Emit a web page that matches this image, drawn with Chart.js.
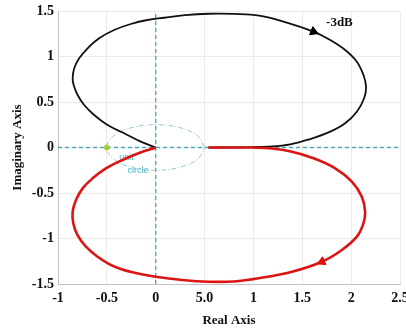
<!DOCTYPE html>
<html>
<head>
<meta charset="utf-8">
<script src="https://cdn.jsdelivr.net/npm/chart.js@4"></script>
<style>
  html, body { margin: 0; padding: 0; background: #fff; }
  #wrap { width: 406px; height: 329px; }
</style>
</head>
<body>
<div id="wrap"><canvas id="nyquistChart" width="406" height="329"></canvas></div>
<script>
// Nyquist curve, upper half (positive frequencies), from the origin round to the real axis
const upperRe = [0, -0.153, -0.323, -0.493, -0.630, -0.732, -0.799, -0.840, -0.850, -0.834, -0.783, -0.697, -0.579, -0.426, -0.255, -0.085, 0.085, 0.30, 0.544,
                 0.80, 1.06, 1.35, 1.615, 1.786, 1.939, 2.058, 2.126, 2.153, 2.133, 2.058, 1.939, 1.786, 1.582, 1.378, 1.15, 0.92, 0.75, 0.54];
const upperIm = [0, 0.064, 0.156, 0.247, 0.357, 0.467, 0.577, 0.687, 0.760, 0.870, 0.980, 1.090, 1.200, 1.291, 1.357, 1.401, 1.426, 1.455, 1.470,
                 1.468, 1.448, 1.37, 1.273, 1.181, 1.071, 0.943, 0.797, 0.668, 0.541, 0.393, 0.266, 0.174, 0.093, 0.035, 0.01, 0.002, 0, 0];

// lower half (negative frequencies)
const lowerRe = [0, -0.17, -0.34, -0.51, -0.646, -0.748, -0.816, -0.85, -0.844, -0.8, -0.714, -0.595, -0.442, -0.238, 0, 0.272, 0.544,
                 0.80, 1.054, 1.395, 1.701, 1.905, 2.058, 2.126, 2.143, 2.109, 2.007, 1.837, 1.599, 1.36, 1.122, 0.85, 0.54];
const lowerIm = [0, -0.06, -0.137, -0.229, -0.339, -0.449, -0.577, -0.705, -0.833, -0.962, -1.09, -1.2, -1.299, -1.372, -1.42, -1.456, -1.475,
                 -1.472, -1.437, -1.365, -1.255, -1.126, -0.98, -0.833, -0.705, -0.54, -0.376, -0.229, -0.112, -0.038, -0.005, 0, 0];

// unit circle guide (drawn squashed, as on the original axes)
const circleRe = [0.5, 0.433, 0.25, 0, -0.25, -0.433, -0.5, -0.433, -0.25, 0, 0.25, 0.433, 0.5];
const circleIm = [0, 0.125, 0.217, 0.25, 0.217, 0.125, 0, -0.125, -0.217, -0.25, -0.217, -0.125, 0];

// direction arrows: position and rotation (deg)
const arrowUpper = { x: 1.615, y: 1.273, rot: 112 };
const arrowLower = { x: 1.701, y: -1.255, rot: 246 };

// critical point
const critPoint = { x: -0.5, y: 0 };

const xTickLabels = ['-1', '-0.5', '0', '5.0', '1', '1.5', '2', '2.5'];
const yTickLabels = ['-1.5', '-1', '-0.5', '0', '0.5', '1', '1.5'];

const toPts = (re, im) => re.map((v, i) => ({ x: v, y: im[i] }));

const teal = '#4fa6b6';

// text labels placed in data coordinates
const labelsPlugin = {
    id: 'plotLabels',
    beforeDatasetsDraw(chart) {
        const { ctx, scales: { x, y } } = chart;
        ctx.save();
        ctx.fillStyle = '#45b3c3';
        ctx.font = '9px "Liberation Sans", Arial, sans-serif';
        ctx.textAlign = 'center';
        ctx.textBaseline = 'middle';
        ctx.fillText('unit', x.getPixelForValue(-0.30), y.getPixelForValue(-0.11));
        ctx.fillText('circle', x.getPixelForValue(-0.18), y.getPixelForValue(-0.25));
        ctx.restore();
    },
    afterDatasetsDraw(chart) {
        const { ctx, scales: { x, y } } = chart;
        ctx.save();
        ctx.fillStyle = '#111';
        ctx.font = 'bold 13px "Liberation Serif", "Times New Roman", serif';
        ctx.textAlign = 'center';
        ctx.textBaseline = 'middle';
        ctx.fillText('-3dB', x.getPixelForValue(1.88), y.getPixelForValue(1.37));
        ctx.restore();
    }
};

const tickFont = { family: '"Liberation Serif", "Times New Roman", serif', size: 14, weight: 'bold' };
const titleFont = { family: '"Liberation Serif", "Times New Roman", serif', size: 13, weight: 'bold' };

new Chart(document.getElementById('nyquistChart'), {
    type: 'scatter',
    data: {
        datasets: [
            {   // arrow on the lower branch
                data: [{ x: arrowLower.x, y: arrowLower.y }],
                pointStyle: 'triangle', rotation: arrowLower.rot,
                pointRadius: 5, backgroundColor: '#e01010', borderColor: '#e01010', borderWidth: 1
            },
            {   // arrow on the upper branch
                data: [{ x: arrowUpper.x, y: arrowUpper.y }],
                pointStyle: 'triangle', rotation: arrowUpper.rot,
                pointRadius: 5, backgroundColor: '#000', borderColor: '#000', borderWidth: 1
            },
            {   // lower branch
                data: toPts(lowerRe, lowerIm),
                showLine: true, borderColor: '#dc1414', borderWidth: 2.6,
                pointRadius: 0, tension: 0.4
            },
            {   // upper branch
                data: toPts(upperRe, upperIm),
                showLine: true, borderColor: '#111', borderWidth: 1.8,
                pointRadius: 0, tension: 0.4
            },
            {   // critical point -1 marker
                data: [critPoint],
                pointRadius: 2.5, backgroundColor: '#a6c93a', borderColor: '#a6c93a'
            },
            {   // unit circle
                data: toPts(circleRe, circleIm),
                showLine: true, borderColor: '#93c7d0', borderWidth: 1,
                borderDash: [5, 2, 1, 2], pointRadius: 0, tension: 0.4
            },
            {   // real axis
                data: [{ x: -1, y: 0 }, { x: 2.5, y: 0 }],
                showLine: true, borderColor: teal, borderWidth: 1.3,
                borderDash: [4, 3], pointRadius: 0
            },
            {   // imaginary axis
                data: [{ x: 0, y: -1.5 }, { x: 0, y: 1.5 }],
                showLine: true, borderColor: teal, borderWidth: 1.3,
                borderDash: [4, 3], pointRadius: 0
            }
        ]
    },
    options: {
        responsive: false,
        animation: false,
        layout: { padding: { left: 0, right: 6, top: 11, bottom: 0 } },
        plugins: {
            legend: { display: false },
            tooltip: { enabled: false }
        },
        scales: {
            x: {
                type: 'linear', min: -1, max: 2.5,
                ticks: {
                    stepSize: 0.5, color: '#111', font: tickFont, padding: 6, maxRotation: 0,
                    callback: (v, i) => xTickLabels[i]
                },
                grid: { color: '#ebebeb', drawTicks: false },
                border: { color: '#c4c4c4' },
                title: { display: true, text: 'Real Axis', color: '#111', font: titleFont, padding: { top: 0, bottom: 1 } },
                afterFit: (s) => { s.height = 45; s.paddingLeft = 0; s.paddingRight = 0; }
            },
            y: {
                type: 'linear', min: -1.5, max: 1.5,
                ticks: {
                    stepSize: 0.5, color: '#111', font: tickFont, padding: 4,
                    callback: (v, i) => yTickLabels[i]
                },
                grid: { color: '#ebebeb', drawTicks: false },
                border: { color: '#c4c4c4' },
                title: { display: true, text: 'Imaginary Axis', color: '#111', font: titleFont, padding: { top: 10, bottom: 0 } },
                afterFit: (s) => { s.width = 58; s.paddingTop = 0; s.paddingBottom = 0; }
            }
        }
    },
    plugins: [labelsPlugin]
});
</script>
</body>
</html>
